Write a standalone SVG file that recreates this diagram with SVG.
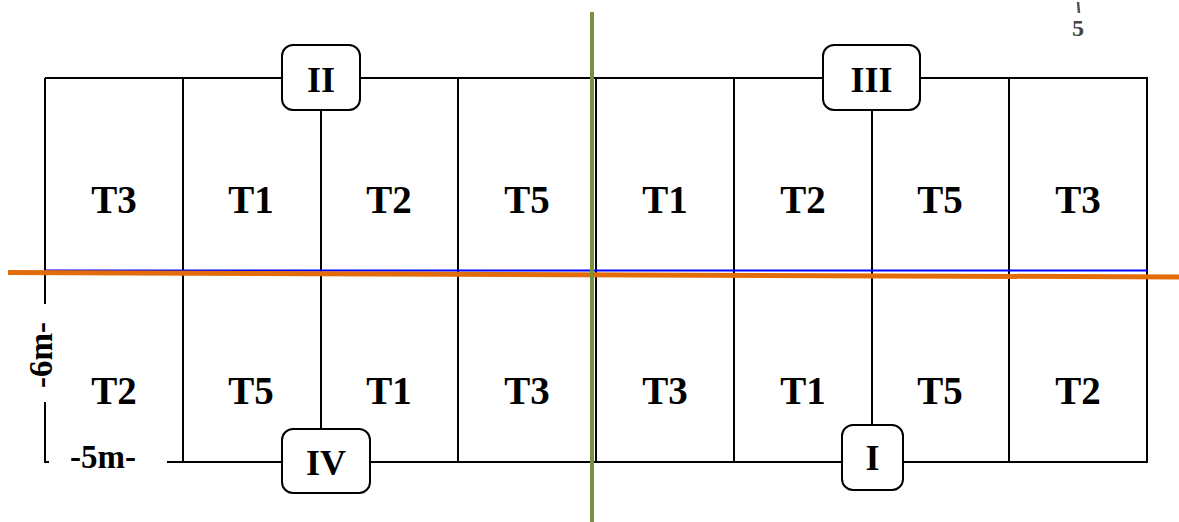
<svg xmlns="http://www.w3.org/2000/svg" width="1179" height="522" viewBox="0 0 1179 522">
<style>
.ln{stroke:#000;stroke-width:2;fill:none}
.bx{fill:#fff;stroke:#000;stroke-width:2}
.t{font-family:"Liberation Serif","Times New Roman",serif;font-weight:bold;font-size:39px;text-anchor:middle;fill:#000}
.r{font-family:"Liberation Serif","Times New Roman",serif;font-weight:bold;font-size:36px;text-anchor:middle;fill:#000}
.m{font-family:"Liberation Serif","Times New Roman",serif;font-weight:bold;font-size:33px;text-anchor:middle;fill:#000}
</style>
<rect width="1179" height="522" fill="#fff"/>
<g id="grid">
<path class="ln" d="M45,78 H282 M360,78 H823 M920,78 H1147 V462 H903 M842,462 H370 M282,462 H167 M49,462 H45 V402 M45,304 V78"/>
<path class="ln" d="M183,78 V462 M458,78 V462 M596,78 V462 M734,78 V462 M1009,78 V462"/>
<path class="ln" d="M321,110 V429 M872,110 V425"/>
</g>
<g id="connectors">
<line x1="45" y1="270.5" x2="1147" y2="270.5" stroke="#0000ff" stroke-width="2"/>
<line x1="8" y1="272.5" x2="1179" y2="277" stroke="#e36c0a" stroke-width="5"/>
<line x1="592" y1="12" x2="592" y2="522" stroke="#77933c" stroke-width="4"/>
</g>
<g id="labels">
<text class="t" x="114" y="213">T3</text>
<text class="t" x="251" y="213">T1</text>
<text class="t" x="389" y="213">T2</text>
<text class="t" x="527" y="213">T5</text>
<text class="t" x="665" y="213">T1</text>
<text class="t" x="803" y="213">T2</text>
<text class="t" x="940" y="213">T5</text>
<text class="t" x="1078" y="213">T3</text>
<text class="t" x="114" y="404">T2</text>
<text class="t" x="251" y="404">T5</text>
<text class="t" x="389" y="404">T1</text>
<text class="t" x="527" y="404">T3</text>
<text class="t" x="665" y="404">T3</text>
<text class="t" x="803" y="404">T1</text>
<text class="t" x="940" y="404">T5</text>
<text class="t" x="1078" y="404">T2</text>
<text class="m" x="103" y="468">-5m-</text>
<text class="m" transform="translate(52,355) rotate(-90)">-6m-</text>
<text x="1078" y="36" font-family="Liberation Serif, serif" font-weight="bold" font-size="24" fill="#444" text-anchor="middle">5</text>
<line x1="1078" y1="2" x2="1079" y2="13" stroke="#555" stroke-width="2.5"/>
</g>
<g id="node-II"><rect class="bx" x="282" y="45" width="78" height="65" rx="11"/><text class="r" x="321" y="92">II</text></g>
<g id="node-III"><rect class="bx" x="823" y="45" width="97" height="65" rx="11"/><text class="r" x="871.5" y="92">III</text></g>
<g id="node-IV"><rect class="bx" x="282" y="429" width="88" height="64" rx="11"/><text class="r" x="326" y="475">IV</text></g>
<g id="node-I"><rect class="bx" x="842" y="425" width="61" height="65" rx="11"/><text class="r" x="872.5" y="470">I</text></g>
</svg>
